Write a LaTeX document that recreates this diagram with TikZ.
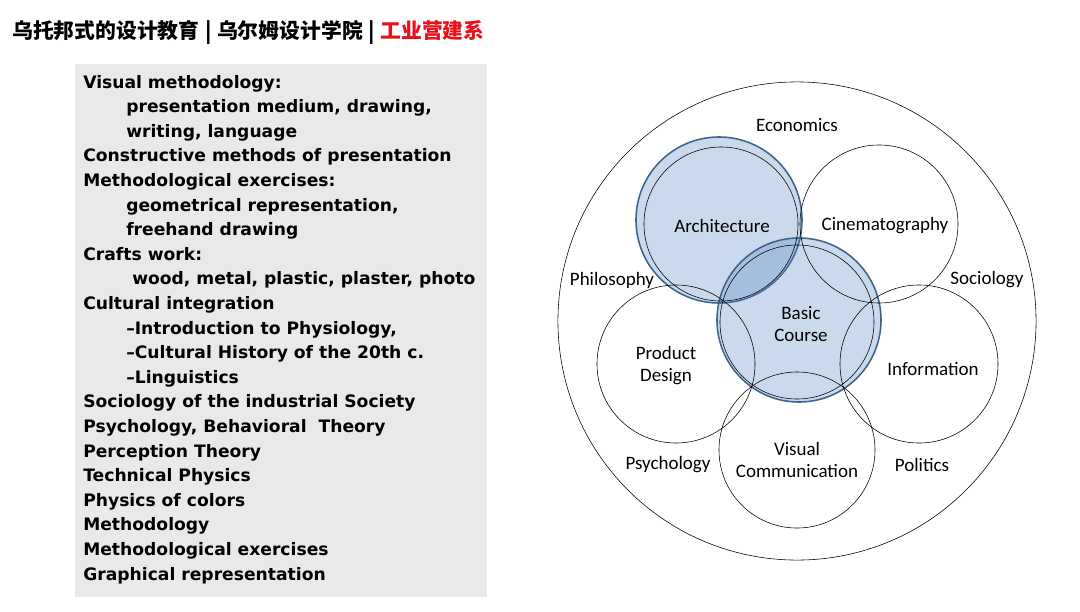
\documentclass[tikz,border=0pt]{standalone}
\usepackage{fontspec}
\newfontfamily\cjk{Noto Sans CJK SC}
\newfontfamily\listfont{DejaVu Sans}
\newfontfamily\labelfont{Carlito}
\definecolor{titlered}{RGB}{232,16,26}
\definecolor{boxgray}{RGB}{233,233,233}
\definecolor{coreblue}{RGB}{79,129,189}
\definecolor{edgeblue}{RGB}{60,100,145}

\begin{document}
\begin{tikzpicture}[x=0.025cm, y=-0.025cm,
  item/.style={anchor=base west, inner sep=0, font=\listfont\bfseries\fontsize{12.2}{14}\selectfont},
  field/.style={circle, draw, inner sep=0},
  core/.style={circle, draw=edgeblue, line width=1.1pt, fill=coreblue, fill opacity=0.3, draw opacity=1, inner sep=0},
  word/.style={align=center, inner sep=0, font=\labelfont\fontsize{13.5}{15.6}\selectfont}]
\useasboundingbox (0,0) rectangle (1080,612);

\node[anchor=west, inner sep=0, font=\cjk\bfseries\fontsize{14.8}{16}\selectfont] (title) at (12,32) {乌托邦式的设计教育\hspace{0.02cm} | \hspace{0.02cm}乌尔姆设计学院\hspace{0.02cm} | \hspace{0.02cm}\textcolor{titlered}{工业营建系}};

\node[fill=boxgray, minimum width=10.3cm, minimum height=13.325cm, anchor=north west, inner sep=0] (box) at (75,64) {};
\node[item] (l1) at (83,88) {Visual methodology:};
\node[item] (l2) at (126,112.6) {presentation medium, drawing,};
\node[item] (l3) at (126,137.2) {writing, language};
\node[item] (l4) at (83,161.8) {Constructive methods of presentation};
\node[item] (l5) at (83,186.4) {Methodological exercises:};
\node[item] (l6) at (126,211) {geometrical representation,};
\node[item] (l7) at (126,235.6) {freehand drawing};
\node[item] (l8) at (83,260.2) {Crafts work:};
\node[item] (l9) at (132,284.8) {wood, metal, plastic, plaster, photo};
\node[item] (l10) at (83,309.4) {Cultural integration};
\node[item] (l11) at (126,334) {–Introduction to Physiology,};
\node[item] (l12) at (126,358.6) {–Cultural History of the 20th c.};
\node[item] (l13) at (126,383.2) {–Linguistics};
\node[item] (l14) at (83,407.8) {Sociology of the industrial Society};
\node[item] (l15) at (83,432.4) {Psychology, Behavioral\ \ Theory};
\node[item] (l16) at (83,457) {Perception Theory};
\node[item] (l17) at (83,481.6) {Technical Physics};
\node[item] (l18) at (83,506.2) {Physics of colors};
\node[item] (l19) at (83,530.8) {Methodology};
\node[item] (l20) at (83,555.4) {Methodological exercises};
\node[item] (l21) at (83,580) {Graphical representation};

\node[circle, draw, minimum size=11.95cm, inner sep=0] (ring) at (797,321) {};
\node[core, minimum size=4.15cm] (archfill) at (719,220) {};
\node[core, minimum size=4.1cm] (basicfill) at (799,320) {};

\node[field, minimum size=3.85cm] (arch) at (721,224) {};
\node[field, minimum size=3.95cm] (cine) at (879,224) {};
\node[field, minimum size=3.85cm] (basic) at (797,322) {};
\node[field, minimum size=3.95cm] (prod) at (676,364) {};
\node[field, minimum size=3.95cm] (info) at (919,364) {};
\node[field, minimum size=3.9cm] (vis) at (797,450) {};

\node[word] (archtext) at (722,226) {Architecture};
\node[word] (cinetext) at (885,226) {Cinematography};
\node[word] (basictext) at (801,324) {Basic\\Course};
\node[word] (prodtext) at (666,366) {Product\\Design};
\node[word] (infotext) at (933,369) {Information};
\node[word] (vistext) at (797,460) {Visual\\Communication};

\node[word] (econ) at (797,125) {Economics};
\node[word] (philo) at (612,280) {Philosophy};
\node[word] (socio) at (987,280) {Sociology};
\node[word] (psych) at (668,465) {Psychology};
\node[word] (poli) at (922,465) {Politics};
\end{tikzpicture}
\end{document}
